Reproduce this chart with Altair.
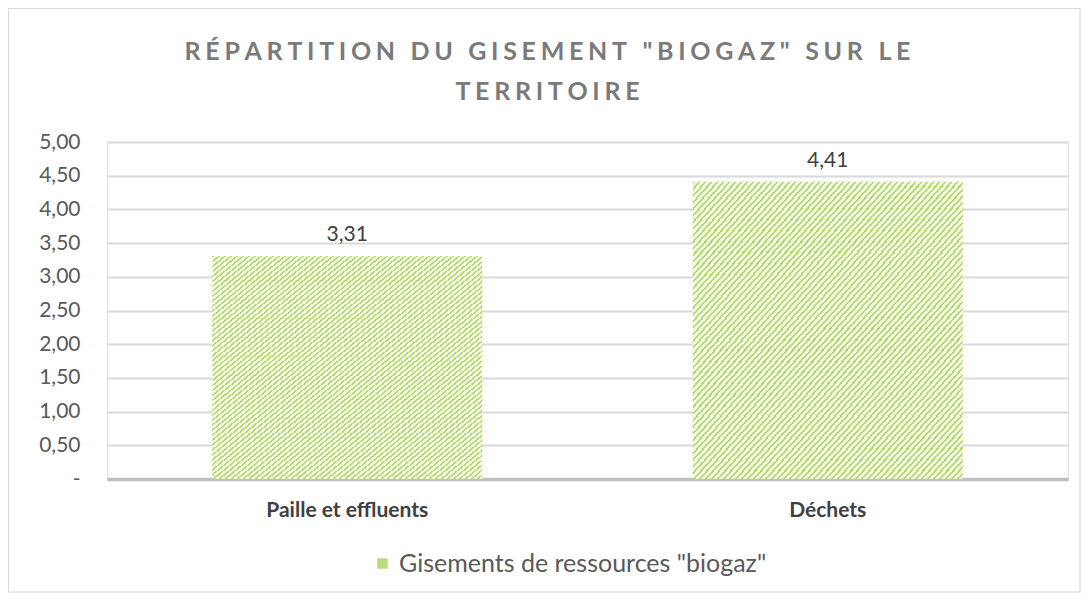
import altair as alt
import pandas as pd

categories = ["Paille et effluents", "Déchets"]
values = [3.31, 4.41]
series_name = 'Gisements de ressources "biogaz"'
title_lines = ['RÉPARTITION DU GISEMENT "BIOGAZ" SUR LE', 'TERRITOIRE']
y_ticks = [0, 0.5, 1, 1.5, 2, 2.5, 3, 3.5, 4, 4.5, 5]

df = pd.DataFrame({"cat": categories, "val": values, "serie": [series_name] * len(categories)})

TS = "\u2009\u200a"
def spaced(s):
    return TS.join(list(s))

# striped fill (upward diagonal pattern) through a hard-stop gradient
dark = "#B0DA68"
light = "#F0F8E2"
N = 90
stops = []
for k in range(N):
    a = k / N
    b = (k + 0.34) / N
    c = (k + 1) / N
    stops += [alt.GradientStop(offset=a, color=dark), alt.GradientStop(offset=b, color=dark),
              alt.GradientStop(offset=b, color=light), alt.GradientStop(offset=c, color=light)]
grad = alt.LinearGradient(gradient="linear", stops=stops, x1=0, y1=0, x2=1, y2=1)

FONT = "Lato"
W, H = 961, 337

xenc = alt.X("cat:N", sort=categories, title=None,
             scale=alt.Scale(paddingInner=0.438, paddingOuter=0.219),
             axis=alt.Axis(labelAngle=0, labelFont=FONT, labelFontSize=21, labelFontWeight="bold",
                           labelColor="#404040", labelPadding=20, ticks=False,
                           domainColor="#BFBFBF", domainWidth=3.5))
yenc = alt.Y("val:Q", title=None,
             scale=alt.Scale(domain=[0, 5], nice=False),
             axis=alt.Axis(values=y_ticks, labelOverlap=False,
                           labelExpr="datum.value == 0 ? '-\u2007' : replace(format(datum.value, '.2f'), '.', ',')",
                           labelFont=FONT, labelFontSize=21, labelColor="#595959", labelPadding=27,
                           ticks=False, domain=False, gridColor="#D9D9D9", gridWidth=1.8))

bars = alt.Chart(df).mark_bar(fill=grad).encode(x=xenc, y=yenc)

labels = alt.Chart(df).transform_calculate(
    lab="replace(format(datum.val, '.2f'), '.', ',')"
).mark_text(font=FONT, fontSize=21, color="#404040", baseline="bottom", dy=-11).encode(
    x=xenc, y=yenc, text="lab:N")

legend_layer = alt.Chart(df).mark_square(size=0, opacity=0).encode(
    x=xenc, y=yenc,
    color=alt.Color("serie:N", title=None,
                    scale=alt.Scale(range=["#B6DD78"]),
                    legend=alt.Legend(orient="none", legendX=263, legendY=409,
                                      symbolType="square", symbolSize=110, symbolOpacity=1,
                                      symbolStrokeWidth=0,
                                      labelFont=FONT, labelFontSize=25, labelColor="#595959",
                                      labelLimit=700)))

title_text = "\n".join(spaced(t) for t in title_lines)
title_layer = alt.Chart(alt.Data(values=[{"t": title_text}])).mark_text(
    font=FONT, fontSize=25, fontWeight="bold", color="#7A7A7A", lineBreak="\n", lineHeight=40,
    align="center", baseline="middle"
).encode(text="t:N", x=alt.value(W / 2 - 40), y=alt.value(-90))

border = alt.Chart(alt.Data(values=[{"a": 1}])).mark_rect(
    fill=None, stroke="#D9D9D9", strokeWidth=1.2
).encode(x=alt.value(-98.5), x2=alt.value(973), y=alt.value(-133.5), y2=alt.value(450))

chart = alt.layer(border, title_layer, bars, labels, legend_layer).properties(
    width=W, height=H,
    autosize=alt.AutoSizeParams(type="none"),
    padding={"left": 99, "top": 134, "right": 13, "bottom": 114},
).configure_view(stroke=None).configure(background="white")

chart.save("out.html", embed_options={"renderer": "svg", "actions": False})
